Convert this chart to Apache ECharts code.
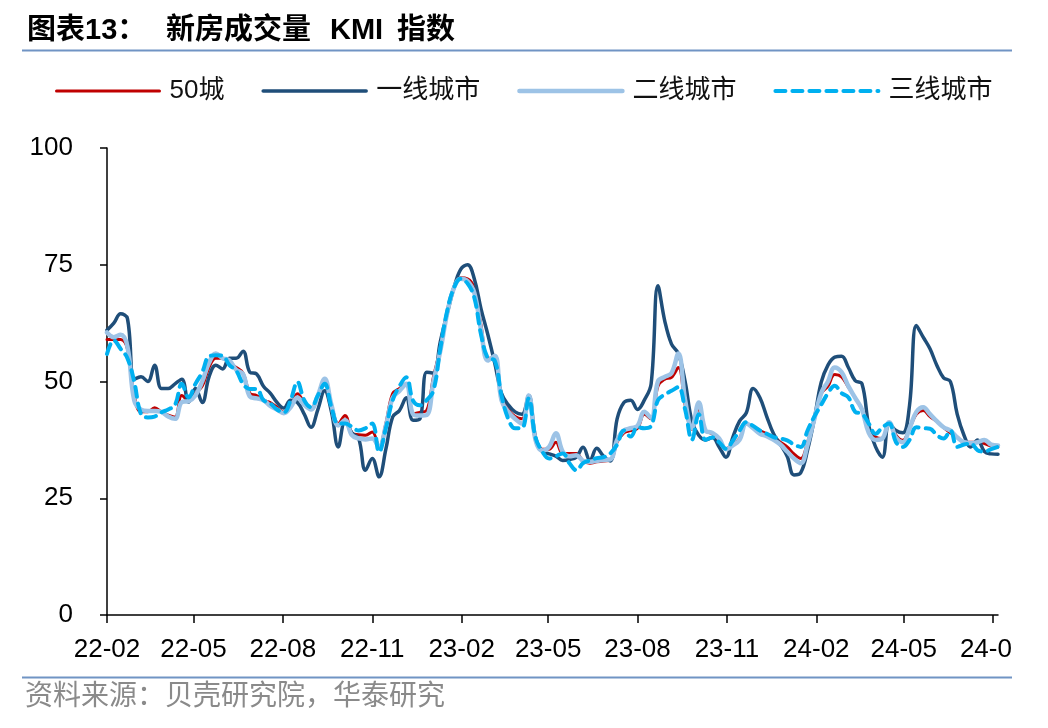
<!DOCTYPE html>
<html>
<head>
<meta charset="utf-8">
<script src="https://cdn.jsdelivr.net/npm/echarts@6/dist/echarts.min.js"></script>
<style>
  html, body { margin: 0; padding: 0; background: #fff; }
  #chart { width: 1012px; height: 728px; }
</style>
</head>
<body>
<div id="chart"></div>
<script>
// 新房成交量 KMI 指数（周度）
var startDate = "2022-02-01";
var tickDates = ["2022-02-01", "2022-05-01", "2022-08-01", "2022-11-01", "2023-02-01", "2023-05-01",
  "2023-08-01", "2023-11-01", "2024-02-01", "2024-05-01", "2024-08-01"];
var tickLabels = ["22-02", "22-05", "22-08", "22-11", "23-02", "23-05", "23-08", "23-11", "24-02", "24-05", "24-08"];
var seriesNames = ["50城", "一线城市", "二线城市", "三线城市"];

var city50 = [59, 59, 59, 57, 47, 43.5, 43.5, 44.4, 43.5, 42.8, 42.4, 47, 46, 47.5, 49, 53, 55, 55, 53.8, 53,
  51.8, 47.5, 47, 46, 45.5, 44.5, 43.4, 44.5, 47.4, 45.5, 44.2, 47, 49.8, 45, 41, 42.7, 39, 38.6, 38.5, 39.2,
  36, 41, 47.4, 48.5, 49.5, 43.1, 43.4, 43.8, 51, 57, 65, 70.2, 72.2, 72, 70, 62, 55, 55, 46.5, 44,
  42.5, 42, 46.6, 37.4, 35.5, 35.5, 37, 34.6, 34.6, 34.6, 33, 32.5, 32.8, 33, 33.1, 37, 39, 39.5, 40, 43,
  42, 49, 50.5, 50.9, 53, 45, 39.8, 44, 39.5, 38.8, 37.5, 35.6, 36.5, 37.8, 41, 40.3, 39.5, 38.8, 38.1, 37,
  36, 34.5, 33.5, 37, 42, 47.4, 49, 51.5, 51, 48.8, 46.5, 44, 39.5, 38.1, 37.8, 41.3, 38.5, 37.4, 40, 43,
  43.8, 42.5, 41.5, 40.2, 39, 38.1, 37, 37, 37, 36.7, 36.2, 36];

var tier1 = [61, 62.5, 64.5, 63.5, 50.5, 51, 50, 53.5, 48.5, 48.5, 49.5, 50.5, 45.6, 48.5, 45.5, 51, 53.5, 52.7, 55, 55,
  56.5, 52, 51.6, 49, 47.5, 45.5, 44.3, 46, 45.5, 43, 40.2, 44, 48, 43.5, 36, 41.5, 39, 37.8, 31, 33.5,
  29.6, 35.5, 42.4, 43.8, 46.5, 41.7, 42, 52, 51.8, 58.5, 64.5, 70, 74, 75, 72, 65.5, 60, 54, 47.5, 45,
  43.5, 43, 47, 38.1, 35, 34.5, 34, 33.1, 33.3, 33.8, 35.9, 33.1, 35.7, 34, 33, 42, 45.5, 46, 44, 46,
  49.5, 70.5, 63, 58, 56, 50, 41.5, 38.5, 37.5, 38, 36, 33.8, 38, 41.5, 43.3, 48.5, 46.5, 42.5, 38.8, 36.5,
  34, 30, 30.5, 35.3, 42, 49.8, 53.5, 55.2, 55.4, 53, 50.2, 49.5, 40.5, 36, 33.8, 41, 39.5, 39, 45, 62,
  59.5, 57, 53.5, 50.8, 50, 43, 38.5, 36, 37.5, 35, 34.5, 34.4];

var tier2 = [60.5, 59.5, 60, 57.5, 46, 44, 43.7, 43.7, 43.5, 42.5, 42, 45.6, 45.8, 47, 50, 54, 56, 55, 54.5, 52.5,
  51.6, 46.8, 46.4, 46, 44.8, 44, 43.2, 44.5, 46.6, 45, 44, 47, 50.6, 45, 40.6, 41.7, 38.5, 37.8, 37.6, 37.8,
  36, 40.5, 46.5, 48, 49.5, 43, 42.7, 42.8, 50, 56.5, 64.5, 70, 72, 71.5, 69, 61, 54.5, 55.5, 46, 43.5,
  42, 41, 47, 37.5, 35.2, 36, 38.9, 35, 34, 34.2, 33, 32.8, 33, 33.2, 33.3, 37.5, 39.5, 40, 40.5, 43.5,
  42.2, 50, 51, 51.8, 56, 46, 40, 45.5, 39.5, 39, 37.8, 35.5, 36.3, 37.5, 41, 40, 38.8, 38.3, 37.5, 36.5,
  35, 33.5, 32.5, 36.5, 42, 47.5, 50, 53, 52, 49, 46.5, 44, 39, 37.5, 37.8, 41.3, 38, 37, 40, 43.5,
  44.5, 43, 41.5, 40.2, 39.5, 38, 37, 36.8, 37, 37.5, 36.5, 36.3];

var tier3 = [55.9, 58.8, 57, 55, 50, 43, 42.3, 42.5, 43.4, 44, 45, 49.5, 46.6, 49.5, 52, 55.4, 55.6, 55.5, 53.5, 52.3,
  49.5, 48.4, 48.4, 46, 45.3, 44, 43.4, 46, 49.9, 46, 44.5, 47, 49.5, 44.5, 41, 41, 40.3, 39.5, 40, 41,
  34.9, 40, 46, 49, 50.9, 45.9, 44.9, 46, 48.1, 57, 65, 70, 72, 71, 68, 60, 55, 54.5, 47, 42,
  40, 40, 46.4, 38, 35, 33.5, 34, 34.6, 32.5, 31, 32.5, 33.1, 33.6, 33.8, 34.6, 36.5, 39.5, 38.2, 40.2, 40,
  40.5, 46, 47.2, 48, 48.8, 44, 37.5, 43, 37.5, 38, 37, 35.6, 37.3, 39.5, 41.3, 40.5, 39.5, 38.8, 38.1, 37.8,
  37.4, 36.5, 36, 39.5, 42.5, 45, 47.5, 49.1, 47.5, 46.6, 43.5, 43.1, 41, 38.8, 40.2, 41, 37, 36, 37.5, 40.2,
  40, 39.9, 38.5, 37.8, 39.5, 36, 36.5, 36.7, 35.3, 35, 35.5, 36];

var DAY = 86400000;
var start = Date.parse(startDate);
var weeks = [];
for (var i = 0; i < city50.length; i++) weeks.push(start + i * 7 * DAY);
var ticks = tickDates.map(function(d) { return Date.parse(d); });

function toPairs(vals) {
  return vals.map(function(v, i) { return [weeks[i], v]; });
}

var fontLatin = "'Liberation Sans', Arial, 'Noto Sans CJK SC', sans-serif";
var fontCJK = "'Liberation Sans', 'Noto Sans CJK SC', sans-serif";

var lineColors = ["#c00000", "#1f4e79", "#9dc3e6", "#00b0f0"];
var lineWidths = [3, 3.5, 4.5, 4];
var lineTypes = ["solid", "solid", "solid", [10, 7]];

function makeLine(k, vals) {
  return {
    name: seriesNames[k],
    type: "line",
    data: toPairs(vals),
    smooth: 0.4,
    symbol: "none",
    lineStyle: { color: lineColors[k], width: lineWidths[k], type: lineTypes[k], cap: "round" },
    itemStyle: { color: lineColors[k] }
  };
}

var chart = echarts.init(document.getElementById("chart"));
chart.setOption({
  animation: false,
  backgroundColor: "#fff",
  graphic: [
    { type: "text", left: 27, top: 16, style: { text: "图表13：", font: "bold 29px " + fontCJK, fill: "#000" } },
    { type: "text", left: 166, top: 16, style: { text: "新房成交量", font: "bold 29px " + fontCJK, fill: "#000" } },
    { type: "text", left: 330, top: 16, style: { text: "KMI", font: "bold 29px " + fontCJK, fill: "#000" } },
    { type: "text", left: 397, top: 16, style: { text: "指数", font: "bold 29px " + fontCJK, fill: "#000" } },
    {
      type: "line", shape: { x1: 22, y1: 50.5, x2: 1012, y2: 50.5 },
      style: { stroke: "#7094c4", lineWidth: 2 }
    },
    {
      type: "line", shape: { x1: 22, y1: 677.5, x2: 1012, y2: 677.5 },
      style: { stroke: "#7094c4", lineWidth: 2 }
    },
    {
      type: "text", left: 25, top: 683,
      style: { text: "资料来源：贝壳研究院，华泰研究", font: "28px " + fontCJK, fill: "#8a8a8a" }
    }
  ],
  legend: {
    top: 78,
    left: 55,
    padding: 0,
    itemWidth: 103,
    itemHeight: 14,
    itemGap: 37,
    itemStyle: { opacity: 0 },
    data: seriesNames.map(function(n, k) {
      return {
        name: n,
        lineStyle: { width: lineWidths[k], type: lineTypes[k], color: lineColors[k], cap: "round" }
      };
    }),
    textStyle: { fontSize: 26, color: "#111", fontFamily: fontCJK, padding: [0, 0, 0, 5] }
  },
  grid: { left: 107, right: 14, top: 148, bottom: 113, outerBoundsMode: "none", containLabel: false },
  xAxis: {
    type: "value",
    min: weeks[0],
    max: weeks[weeks.length - 1],
    splitLine: { show: false },
    axisLine: { lineStyle: { color: "#000", width: 1.5 } },
    axisTick: { show: true, length: 8, lineStyle: { color: "#000", width: 1.5 }, customValues: ticks },
    axisLabel: {
      customValues: ticks,
      margin: 22,
      fontSize: 26,
      color: "#000",
      fontFamily: fontLatin,
      formatter: function(v) {
        var k = ticks.indexOf(v);
        return k >= 0 ? tickLabels[k] : "";
      }
    }
  },
  yAxis: {
    type: "value",
    min: 0,
    max: 100,
    interval: 25,
    splitLine: { show: false },
    axisLine: { show: true, lineStyle: { color: "#000", width: 1.5 } },
    axisTick: { show: true, length: 7, lineStyle: { color: "#000", width: 1.5 } },
    axisLabel: { fontSize: 26, color: "#000", margin: 34, fontFamily: fontLatin }
  },
  series: [
    makeLine(0, city50),
    makeLine(1, tier1),
    makeLine(2, tier2),
    makeLine(3, tier3)
  ]
});
</script>
</body>
</html>
